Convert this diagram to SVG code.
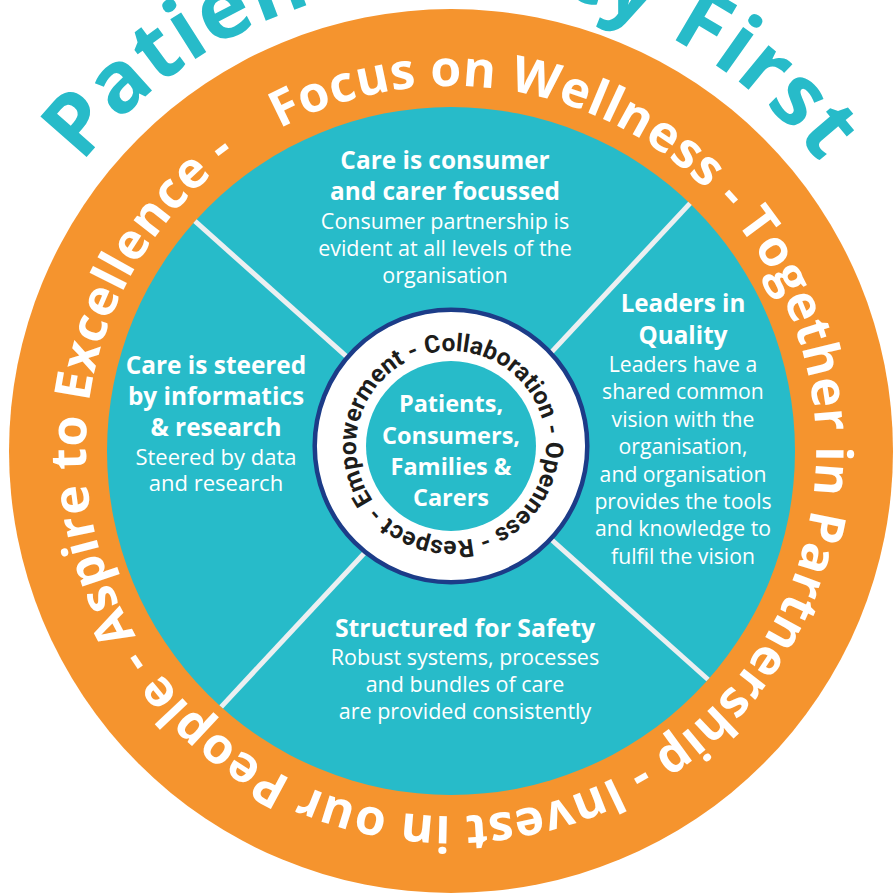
<svg xmlns="http://www.w3.org/2000/svg" width="896" height="896" viewBox="0 0 896 896">
<defs>
<style>
.ff{font-family:'Open Sans','Noto Sans','DejaVu Sans',sans-serif}
.tb{font-family:'Open Sans','Noto Sans','DejaVu Sans',sans-serif;font-weight:700;fill:#ffffff;text-anchor:middle}
.tr{font-family:'Open Sans','Noto Sans','DejaVu Sans',sans-serif;font-weight:400;fill:#ffffff;text-anchor:middle}
.val{font-family:Roboto,'Noto Sans','DejaVu Sans',sans-serif;font-weight:700;fill:#1d1d1b}
.sep{stroke:#eceff1;stroke-width:5;fill:none}
</style>
<path id="titlePath" d="M-17,451 A468,468 0 0,1 919,451"/>
<path id="ringPath" d="M279.64,128.72 A365,365 0 1,1 622.36,773.28 A365,365 0 1,1 279.64,128.72"/>
<path id="valuesPath" d="M373.18,500.49 A95,95 0 1,1 528.82,391.51 A95,95 0 1,1 373.18,500.49"/>
</defs>
<rect width="896" height="896" fill="#ffffff"/>

<g id="outer-ring">
<circle cx="451" cy="451" r="442" fill="#f5942e"/>
<text class="ff" font-size="50" font-weight="700" fill="#ffffff"><textPath href="#ringPath" textLength="2242" lengthAdjust="spacing">Focus on Wellness - Together in Partnership - Invest in our People - Aspire to Excellence -</textPath></text>
</g>

<g id="title">
<text class="ff" font-size="86" font-weight="700" fill="#27bbc9" text-anchor="middle"><textPath href="#titlePath" startOffset="50%" textLength="850" lengthAdjust="spacing">Patient Safety First</textPath></text>
</g>

<g id="teal-disc">
<circle cx="451" cy="451" r="344" fill="#27bbc9"/>
</g>

<g id="connectors">
<line class="sep" x1="195" y1="221.2" x2="708" y2="679.5"/>
<line class="sep" x1="690" y1="203.4" x2="221.2" y2="706.9"/>
</g>

<g id="quadrant-top">
<text class="tb" font-size="24.4" x="445" y="169">Care is consumer</text>
<text class="tb" font-size="24.4" x="445" y="200">and carer focussed</text>
<text class="tr" font-size="21.5" x="445" y="229">Consumer partnership is</text>
<text class="tr" font-size="21.5" x="445" y="256">evident at all levels of the</text>
<text class="tr" font-size="21.5" x="445" y="283">organisation</text>
</g>

<g id="quadrant-left">
<text class="tb" font-size="24.4" x="216" y="374">Care is steered</text>
<text class="tb" font-size="24.4" x="216" y="405">by informatics</text>
<text class="tb" font-size="24.4" x="216" y="436">&amp; research</text>
<text class="tr" font-size="22" x="216" y="465">Steered by data</text>
<text class="tr" font-size="22" x="216" y="491">and research</text>
</g>

<g id="quadrant-right">
<text class="tb" font-size="24.2" x="683" y="312">Leaders in</text>
<text class="tb" font-size="24.2" x="683" y="344">Quality</text>
<text class="tr" font-size="21.2" x="683" y="372">Leaders have a</text>
<text class="tr" font-size="21.2" x="683" y="399.4">shared common</text>
<text class="tr" font-size="21.2" x="683" y="426.8">vision with the</text>
<text class="tr" font-size="21.2" x="683" y="454.2">organisation,</text>
<text class="tr" font-size="21.2" x="683" y="481.6">and organisation</text>
<text class="tr" font-size="21.2" x="683" y="509">provides the tools</text>
<text class="tr" font-size="21.2" x="683" y="536.4">and knowledge to</text>
<text class="tr" font-size="21.2" x="683" y="563.8">fulfil the vision</text>
</g>

<g id="quadrant-bottom">
<text class="tb" font-size="24.8" x="465" y="637">Structured for Safety</text>
<text class="tr" font-size="21.5" x="465" y="665">Robust systems, processes</text>
<text class="tr" font-size="21.5" x="465" y="692">and bundles of care</text>
<text class="tr" font-size="21.5" x="465" y="719">are provided consistently</text>
</g>

<g id="core">
<circle cx="451" cy="446" r="136.3" fill="#ffffff" stroke="#1c3c88" stroke-width="4.5"/>
<circle cx="451" cy="446" r="85" fill="#27bbc9"/>
<text class="val" font-size="24.5"><textPath href="#valuesPath" textLength="589" lengthAdjust="spacing">Empowerment - Collaboration - Openness - Respect -</textPath></text>
<text class="tb" font-size="23.5" x="451" y="412">Patients,</text>
<text class="tb" font-size="23.5" x="451" y="443.5">Consumers,</text>
<text class="tb" font-size="23.5" x="451" y="475">Families &amp;</text>
<text class="tb" font-size="23.5" x="451" y="506">Carers</text>
</g>
</svg>
